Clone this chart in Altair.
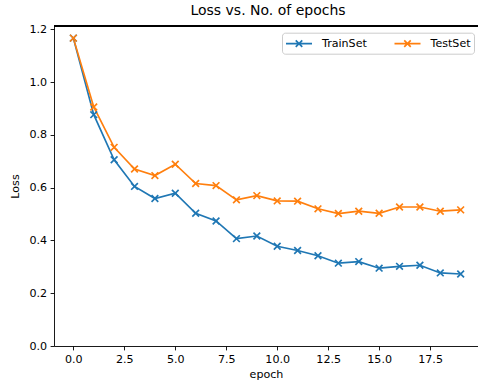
import altair as alt
import pandas as pd

epochs = list(range(20))
train_loss = [1.167, 0.877, 0.706, 0.605, 0.559, 0.579, 0.503, 0.474, 0.407, 0.417,
              0.378, 0.362, 0.342, 0.314, 0.320, 0.295, 0.302, 0.306, 0.277, 0.273]
test_loss = [1.167, 0.906, 0.753, 0.671, 0.646, 0.689, 0.616, 0.608, 0.554, 0.570,
             0.550, 0.549, 0.520, 0.502, 0.511, 0.503, 0.527, 0.527, 0.511, 0.516]
series = ["TrainSet", "TestSet"]
colors = ["#1f77b4", "#ff7f0e"]
x_ticks = [0, 2.5, 5, 7.5, 10, 12.5, 15, 17.5]
y_ticks = [0, 0.2, 0.4, 0.6, 0.8, 1.0, 1.2]

df = pd.DataFrame({
    "epoch": epochs * 2,
    "loss": train_loss + test_loss,
    "set": [series[0]] * len(epochs) + [series[1]] * len(epochs),
})

FONT = "DejaVu Sans"
W, H = 424, 320

xenc = alt.X("epoch:Q", scale=alt.Scale(domain=[-0.95, 19.85], nice=False, zero=False),
             axis=alt.Axis(values=x_ticks, format=".1f", title="epoch", titlePadding=4))
yenc = alt.Y("loss:Q", scale=alt.Scale(domain=[0, 1.213], nice=False),
             axis=alt.Axis(values=y_ticks, format=".1f", title="Loss", titlePadding=8))
color = alt.Color("set:N", scale=alt.Scale(domain=series, range=colors),
                  sort=series,
                  legend=alt.Legend(title=None, orient="none", legendX=228, legendY=6.7,
                                    direction="horizontal", columns=2))

base = alt.Chart(df)
lines = base.mark_line(strokeWidth=1.67).encode(x=xenc, y=yenc, color=color)
points = base.mark_point(shape="M-1,-1L1,1M-1,1L1,-1", filled=False, size=45,
                         strokeWidth=1.67, opacity=1).encode(x=xenc, y=yenc, color=color)
top = alt.Chart(df).mark_rule(color="black", strokeWidth=0.9).encode(
    x=alt.value(0), x2=alt.value(W), y=alt.value(0))

chart = alt.layer(lines, points, top).properties(
    width=W, height=H,
    title=alt.Title("Loss vs. No. of epochs", fontSize=14, font=FONT,
                    fontWeight="normal", anchor="middle", offset=5, dx=2, color="black"),
    autosize=alt.AutoSizeParams(type="none"),
    padding={"left": 54, "top": 26, "right": 0, "bottom": 37},
).configure_view(strokeWidth=0).configure_axis(
    grid=False, domainColor="black", domainWidth=0.9, tickColor="black", tickWidth=0.9,
    tickSize=3.9, labelPadding=3.5, labelFont=FONT, labelFontSize=11.1,
    labelColor="black", titleFont=FONT, titleFontSize=11.1, titleFontWeight="normal",
    titleColor="black",
).configure_legend(
    symbolType="M-1,0L3,0M0.5,-0.5L1.5,0.5M0.5,0.5L1.5,-0.5",
    symbolSize=169, symbolStrokeWidth=1.67, symbolFillColor="transparent",
    labelFont=FONT, labelFontSize=11.1, labelColor="black", labelOffset=22,
    columnPadding=23.5, padding=3, strokeColor="#cccccc", fillColor="white",
    cornerRadius=3,
)

chart.save("out.html", embed_options={"renderer": "svg", "actions": False})
